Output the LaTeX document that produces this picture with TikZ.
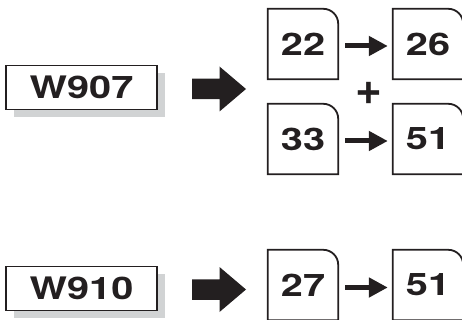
\documentclass[tikz,border=0pt]{standalone}
\usepackage{fontspec}
\newfontfamily\cellfont{TeX Gyre Heros}[FakeStretch=1.28]
\newfontfamily\plusfont{TeX Gyre Heros}
\usetikzlibrary{arrows.meta,shadows,calc}

\definecolor{ink}{RGB}{35,31,32}
\definecolor{shadowgrey}{RGB}{209,211,212}

\tikzset{
    tag/.style={draw=ink, line width=1.8pt, fill=white, minimum width=151pt, minimum height=44pt,
        inner sep=0pt, text=ink, font=\cellfont\bfseries\fontsize{31}{31}\selectfont,
        drop shadow={shadow xshift=7.5pt, shadow yshift=-7.5pt, fill=shadowgrey, opacity=1}},
    cell/.style={minimum size=70pt, inner sep=0pt, text=ink,
        font=\cellfont\bfseries\fontsize{31}{31}\selectfont},
    frame/.style={draw=ink, line width=1.8pt},
    link/.style={ink, line width=5pt, -{Triangle[length=19pt,width=19pt]}},
}

% box with one rounded corner (top right)
\newcommand{\cellframe}[1]{%
    \draw[frame] (#1.south west) -- (#1.north west) -- ([xshift=-15pt]#1.north east)
        arc[start angle=90, end angle=0, radius=15pt] -- (#1.south east) -- cycle;}

% thick block arrow, #1 = middle of its tail
\newcommand{\blockarrow}[1]{%
    \fill[ink] ([shift={(0,-10.25)}]#1) -- ++(27.5,0) -- ++(0,-12.25) -- ++(26.5,22.5)
        -- ++(-26.5,22.5) -- ++(0,-12.25) -- ++(-27.5,0) -- cycle;}

\begin{document}
\begin{tikzpicture}[x=1pt, y=-1pt]
    \useasboundingbox (0,0) rectangle (462,320);

    \begin{scope}
        \node[tag] (w907) at (81.5,87.5) {W907};
        \coordinate (a907) at (192,89);
        \blockarrow{a907}

        \node[cell] (b22) at (303,44) {22};
        \node[cell] (b26) at (428,44) {26};
        \node[cell] (b33) at (303,139) {33};
        \node[cell] (b51) at (428,139) {51};
        \foreach \n in {b22,b26,b33,b51} {\cellframe{\n}}

        \draw[link] ([shift={(7,2)}]b22.east) -- ([shift={(-5,2)}]b26.west);
        \draw[link] ([shift={(7,2)}]b33.east) -- ([shift={(-5,2)}]b51.west);

        \node[text=ink, inner sep=0pt, font=\plusfont\bfseries\fontsize{46}{46}\selectfont] (plus) at (369,93.5) {+};
    \end{scope}

    \begin{scope}
        \node[tag] (w910) at (81.5,288.5) {W910};
        \coordinate (a910) at (192,289.5);
        \blockarrow{a910}

        \node[cell] (b27) at (303,285) {27};
        \node[cell] (b51b) at (428,285) {51};
        \foreach \n in {b27,b51b} {\cellframe{\n}}

        \draw[link] ([shift={(7,2.5)}]b27.east) -- ([shift={(-5,2.5)}]b51b.west);
    \end{scope}
\end{tikzpicture}
\end{document}
